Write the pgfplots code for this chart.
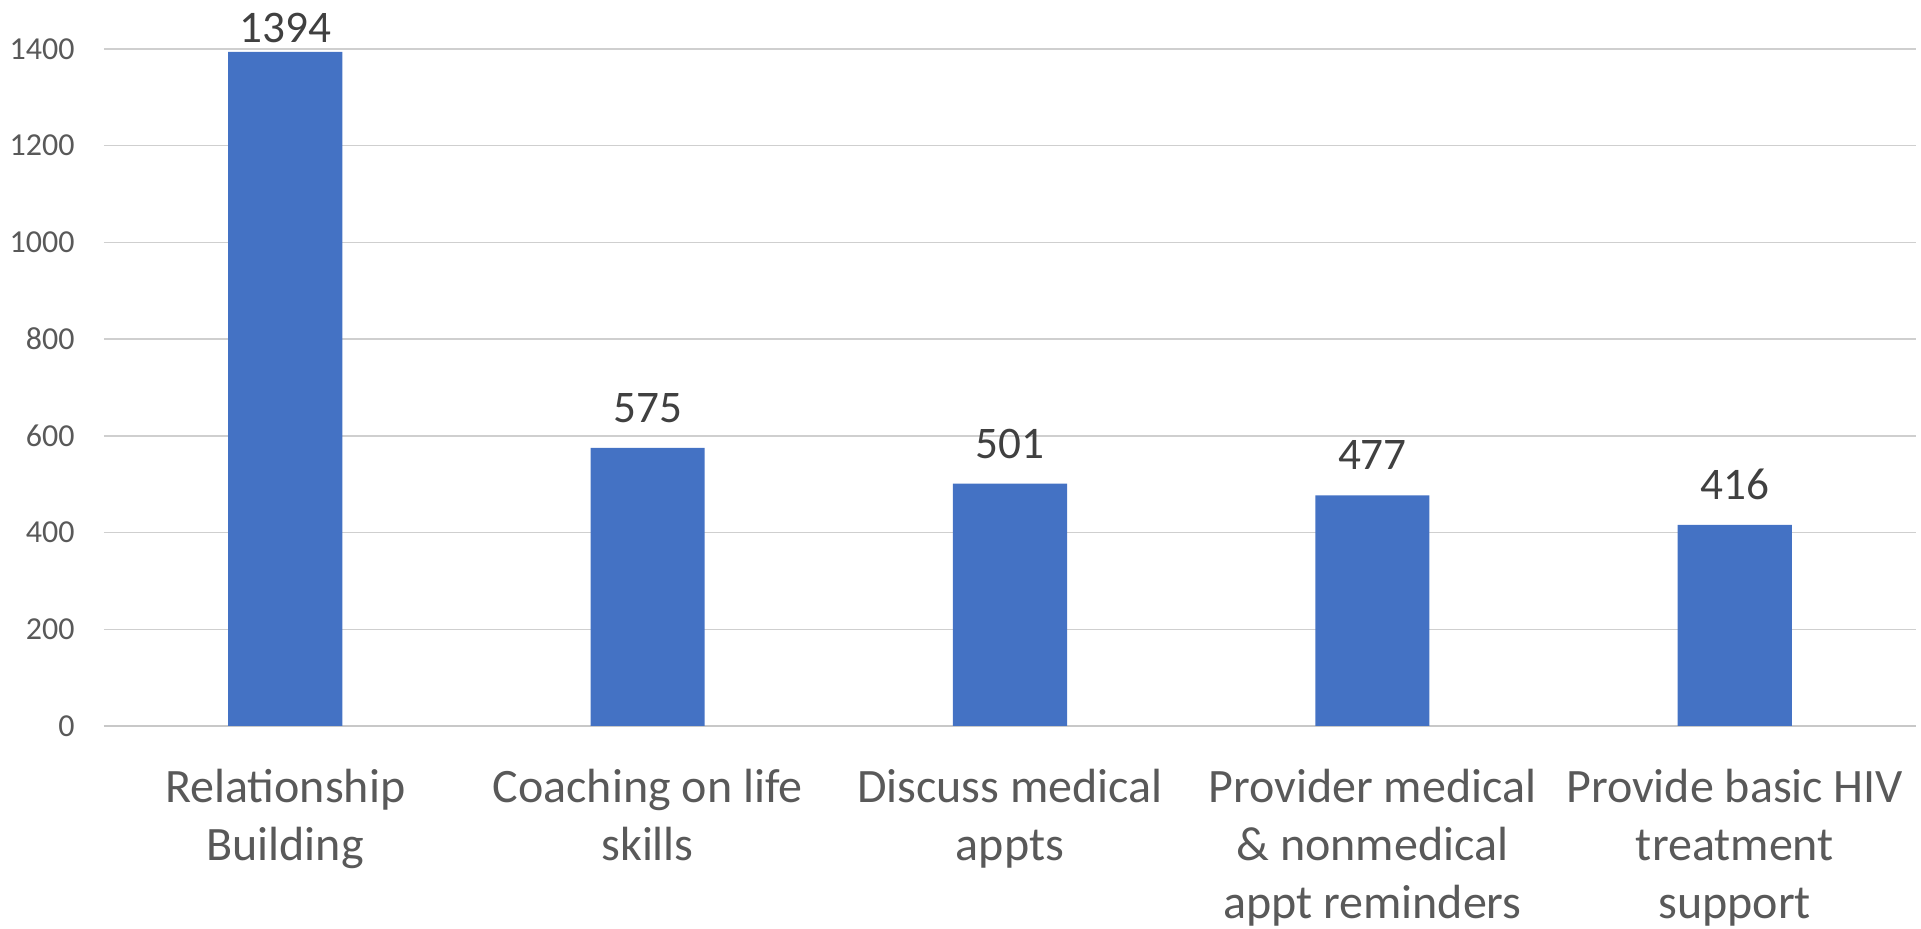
\documentclass[border=0pt]{standalone}
\usepackage{pgfplots}
\pgfplotsset{compat=1.18}
\usepackage{pgfplotstable}
\usepackage{fontspec}
\setmainfont{Carlito}
\definecolor{barblue}{HTML}{4472C4}
\definecolor{gridgray}{HTML}{CFCFCF}
\definecolor{axisgray}{HTML}{C8C8C8}
\definecolor{ticktext}{HTML}{595959}
\definecolor{labeltext}{HTML}{404040}

\pgfplotstableread{
x y s
0 1394 4.5
1 575 12.5
2 501 12.5
3 477 12.5
4 416 12.5
}\datatable

\begin{document}
\begin{tikzpicture}
\begin{axis}[
  scale only axis, width=906pt, height=338.5pt,
  xmin=-0.5, xmax=4.5, ymin=0, ymax=1400,
  axis line style={draw=none},
  ybar, bar width=0.315,
  ytick={0,200,...,1400},
  xtick={0,1,2,3,4},
  xticklabels={Relationship\\Building, Coaching on life\\skills, Discuss medical\\appts, Provider medical\\\& nonmedical\\appt reminders, Provide basic HIV\\treatment\\support},
  major tick length=0pt,
  ymajorgrids, grid style={gridgray, line width=0.75pt},
  extra y ticks={0}, extra y tick labels={},
  extra y tick style={grid style={axisgray, line width=1.1pt}},
  /pgf/number format/1000 sep={},
  /pgf/number format/assume math mode=true,
  yticklabel style={font=\fontsize{16}{19}\selectfont, text=ticktext, inner sep=0pt, xshift=-14.5pt},
  xticklabel style={align=center, font=\fontsize{24}{29}\selectfont, text=ticktext, inner sep=0pt, yshift=-21.5pt},
  clip=false,
]
\addplot[fill=barblue, draw=none,
  nodes near coords,
  visualization depends on={\thisrow{s}\as\myshift},
  every node near coord/.append style={font=\fontsize{22.6}{27}\selectfont, text=labeltext, anchor=south, inner sep=0pt, yshift=\myshift pt}
] table[x=x, y=y] {\datatable};
\coordinate (bl) at (rel axis cs:0,0);
\coordinate (tr) at (rel axis cs:1,1);
\end{axis}
\pgfresetboundingbox
\path[use as bounding box] ([xshift=-52pt, yshift=-101.5pt]bl) rectangle ([xshift=2.5pt, yshift=24.5pt]tr);
\end{tikzpicture}
\end{document}
